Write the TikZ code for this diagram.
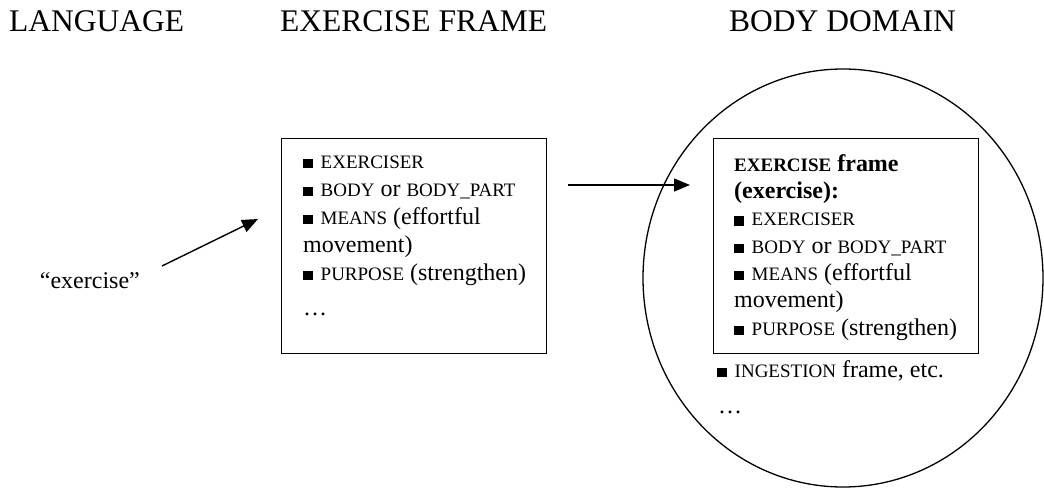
\documentclass[tikz,border=0pt]{standalone}
\usepackage{fontspec}
\setmainfont{Liberation Serif}
\usetikzlibrary{arrows.meta,shapes.geometric}

% role names are set in smaller capitals, each item is led by a black square
\newcommand{\smc}[1]{{\fontsize{19}{19}\selectfont #1}}
\newcommand{\blk}{\rule{9.5pt}{9.5pt}\hspace{8pt}}

\begin{document}
\begin{tikzpicture}[x=1pt,y=-1pt,
  heading/.style={anchor=base west, inner sep=0pt, font=\fontsize{31.5}{36}\selectfont},
  framebox/.style={draw, line width=1.3pt, anchor=north west, inner sep=0pt,
    minimum width=265pt, minimum height=215pt},
  slots/.style={anchor=north west, inner sep=0pt, align=left},
  plain/.style={inner sep=0pt, font=\fontsize{24}{28}\selectfont},
  link/.style={line width=1.4pt, -{Triangle[length=16pt,width=13pt]}}]
\useasboundingbox (0,0) rectangle (1044,489);

% column headings
\node[heading] (hlang)  at (9,32)   {LANGUAGE};
\node[heading] (hframe) at (280,32) {EXERCISE FRAME};
\node[heading] (hbody)  at (729,32) {BODY DOMAIN};

% the word
\node[plain, anchor=base east] (word) at (140,288) {“exercise”};

% frame box
\node[framebox] (frame) at (281,138) {};
\node[slots, font=\fontsize{24}{28}\selectfont] (frametext) at (303,148.4) {%
\strut\blk\smc{EXERCISER}\\
\blk\smc{BODY} or \smc{BODY\_PART}\\
\blk\smc{MEANS} (effortful\\
movement)\\
\blk\smc{PURPOSE} (strengthen)\\[7pt]
…};

% body domain
\node[draw, ellipse, line width=1.3pt, inner sep=0pt,
  minimum width=400pt, minimum height=418pt] (domain) at (843,278) {};
\node[framebox] (inner) at (713,138) {};
\node[slots, font=\fontsize{24}{27.3}\selectfont] (innertext) at (734,151.9) {%
\strut\textbf{\smc{EXERCISE} frame}\\
\textbf{(exercise):}\\
\blk\smc{EXERCISER}\\
\blk\smc{BODY} or \smc{BODY\_PART}\\
\blk\smc{MEANS} (effortful\\
movement)\\
\blk\smc{PURPOSE} (strengthen)};
\node[plain, anchor=base west] (ingest) at (717,377) {\blk\smc{INGESTION} frame, etc.};
\node[plain, anchor=base west] (more) at (718,413) {…};

% mappings
\coordinate (w1) at (162,266);
\coordinate (f1) at (258,219);
\coordinate (f2) at (568,185);
\coordinate (d1) at (690,185);
\draw[link] (w1) -- (f1);
\draw[link] (f2) -- (d1);
\end{tikzpicture}
\end{document}
